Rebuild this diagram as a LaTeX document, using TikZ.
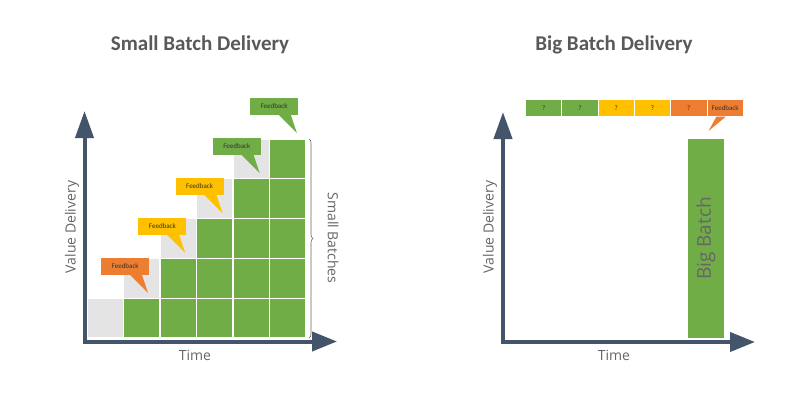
\documentclass[tikz,border=0pt]{standalone}
\usepackage{fontspec}
\setmainfont{Open Sans}
\newfontfamily\calfont{Carlito}
\usetikzlibrary{arrows.meta,calc,decorations.pathreplacing}
\definecolor{cgreen}{HTML}{70AD47}
\definecolor{cyellow}{HTML}{FFC000}
\definecolor{corange}{HTML}{ED7D31}
\definecolor{cgray}{HTML}{E4E4E4}
\definecolor{caxis}{HTML}{44546A}
\definecolor{ctext}{HTML}{666666}
\definecolor{ctitle}{HTML}{595959}
\tikzset{
  cell/.style={draw=white,line width=1.2pt},
  axisline/.style={draw=caxis,line width=4pt,line join=miter,
    {Triangle[width=18pt,length=27pt]}-{Triangle[width=19pt,length=25pt]}},
  titletext/.style={font=\calfont\bfseries\fontsize{21}{24}\selectfont,text=ctitle},
  axislabel/.style={font=\fontsize{14}{16}\selectfont,text=ctext},
  fbbox/.style={inner sep=0pt,minimum width=48pt,minimum height=17pt,anchor=north west,
    font=\calfont\fontsize{7}{8}\selectfont,text=black!80},
  barcell/.style={inner sep=0pt,minimum width=36.3pt,minimum height=17pt,draw=white,line width=1pt,
    font=\calfont\fontsize{7}{8}\selectfont,text=black!80},
}
\begin{document}
\begin{tikzpicture}[x=1pt,y=-1pt]
\useasboundingbox[fill=white] (0,0) rectangle (800,400);

% titles
\node[titletext] (t1) at (200,45) {Small Batch Delivery};
\node[titletext] (t2) at (614,45) {Big Batch Delivery};

% ---------- left panel ----------
\foreach \i in {0,...,5}{
  \foreach \j in {0,...,4}{
    \ifnum\i>\j
      \path[cell,fill=cgreen] (87+36.5*\i,338-39.8*\j) rectangle (87+36.5*\i+36.5,338-39.8*\j-39.8);
    \fi
    \ifnum\i=\j
      \path[cell,fill=cgray] (87+36.5*\i,338-39.8*\j) rectangle (87+36.5*\i+36.5,338-39.8*\j-39.8);
    \fi
  }
}

\foreach \k/\c in {0/corange,1/cyellow,2/cyellow,3/cgreen,4/cgreen}{
  \node[fbbox,fill=\c] (f\k) at (101+37.2*\k,257.5-40*\k) {Feedback};
  \fill[\c] ($(f\k.south west)+(29,0)$) -- ($(f\k.south west)+(47,18)$) -- ($(f\k.south west)+(41,0)$) -- cycle;
}

\draw[decorate,decoration={brace,amplitude=4pt},draw=ctext,line width=0.6pt] (309,139) -- (309,338);
\node[axislabel,rotate=-90] (sb) at (333,238) {Small Batches};

\coordinate (Ltop) at (84.5,111);
\coordinate (Lright) at (337,341.5);
\draw[axisline] (Ltop) |- (Lright);
\node[axislabel,rotate=90] (vd1) at (72,227) {Value Delivery};
\node[axislabel] (tm1) at (195,355) {Time};

% ---------- right panel ----------
\foreach \k/\c in {0/cgreen,1/cgreen,2/cyellow,3/cyellow,4/corange}{
  \node[barcell,fill=\c,anchor=north west] (q\k) at (525+36.3*\k,99) {?};
}
\node[barcell,fill=corange,anchor=north west] (fb) at (706.5,99) {Feedback};
\fill[corange] ($(fb.south west)+(10,-0.5)$) -- ($(fb.south west)+(2,14)$) -- ($(fb.south west)+(19.5,-0.5)$) -- cycle;

\node[fill=cgreen,rotate=90,minimum width=199pt,minimum height=36pt,inner sep=0pt,
  font=\fontsize{19}{22}\selectfont,text=ctext] (bb) at (706,238.5) {Big Batch};

\coordinate (Rtop) at (503,112);
\coordinate (Rright) at (755,342);
\draw[axisline] (Rtop) |- (Rright);
\node[axislabel,rotate=90] (vd2) at (490,227) {Value Delivery};
\node[axislabel] (tm2) at (614,355) {Time};
\end{tikzpicture}
\end{document}
